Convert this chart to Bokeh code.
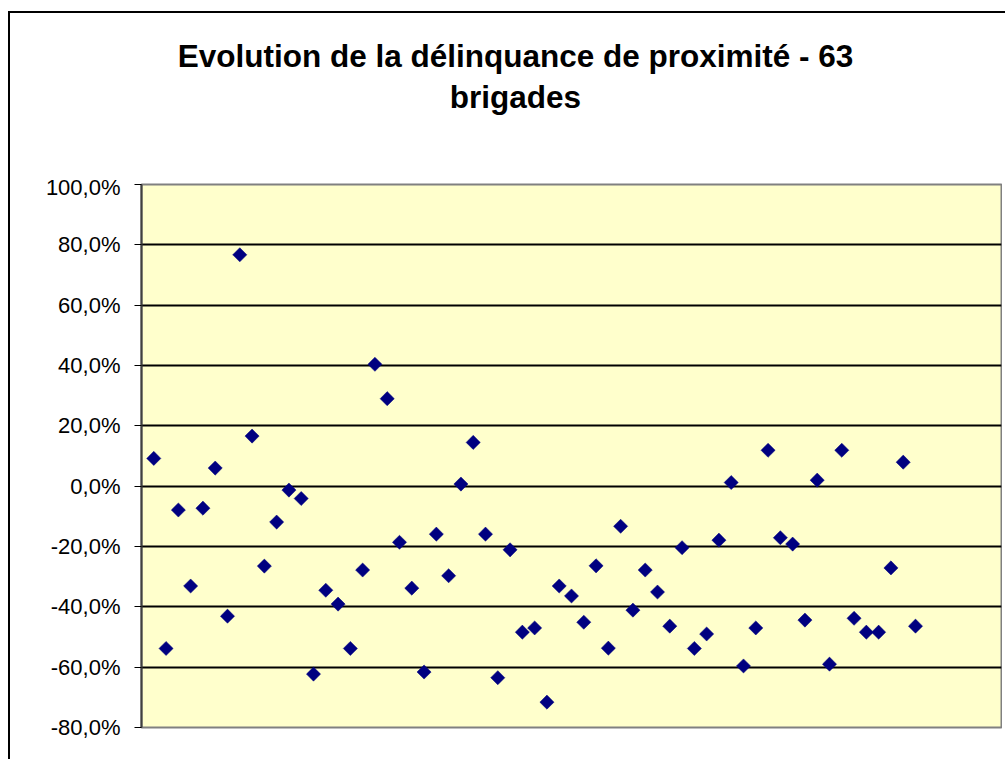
import numpy as np
from bokeh.plotting import figure
from bokeh.layouts import column
from bokeh.models import FixedTicker, Range1d, Div
from bokeh.embed import file_html
from bokeh.resources import INLINE

# ---- data -------------------------------------------------------------
title_line1 = "Evolution de la délinquance de proximité - 63"
title_line2 = "brigades"

brigades = list(range(1, 64))
evolution_pct = [
    9.2, -53.8, -7.9, -33.1, -7.3, 6.0, -43.1, 76.7, 16.6, -26.5,
    -11.9, -1.3, -4.1, -62.3, -34.5, -39.1, -53.8, -27.8, 40.4, 29.0,
    -18.6, -33.8, -61.6, -15.9, -29.7, 0.7, 14.5, -15.9, -63.5, -21.1,
    -48.4, -47.0, -71.6, -33.1, -36.4, -45.1, -26.4, -53.7, -13.3, -41.1,
    -27.8, -35.1, -46.4, -20.4, -53.8, -49.0, -17.9, 1.2, -59.6, -47.0,
    11.9, -17.1, -19.2, -44.4, 2.0, -59.0, 11.9, -43.8, -48.4, -48.4,
    -27.1, 7.95, -46.4,
]
y_ticks = [-80, -60, -40, -20, 0, 20, 40, 60, 80, 100]
y_tick_labels = ["-80,0%", "-60,0%", "-40,0%", "-20,0%", "0,0%",
                 "20,0%", "40,0%", "60,0%", "80,0%", "100,0%"]

# ---- title ------------------------------------------------------------
title_div = Div(
    text=(
        '<div style="display:block;box-sizing:border-box;width:992px;'
        'font-family:\'Liberation Sans\',Arial,sans-serif;'
        'font-weight:bold;font-size:31.5px;line-height:41px;color:#000;'
        'text-align:center;padding-top:18px;padding-left:9px;">'
        f'{title_line1}<br>{title_line2}</div>'
    ),
    width=992, height=151,
)

# ---- figure -----------------------------------------------------------
p = figure(width=992, height=585, output_backend="svg", toolbar_location=None,
           x_range=Range1d(0, 70), y_range=Range1d(-80, 100),
           min_border_left=131, min_border_top=10, min_border_right=1,
           min_border_bottom=32,
           background_fill_color="#FFFFCC", border_fill_color="white")

p.outline_line_color = "#808080"
p.outline_line_width = 2

p.xaxis.visible = False
p.xgrid.visible = False

p.yaxis.ticker = FixedTicker(ticks=y_ticks)
p.yaxis.major_label_overrides = {t: l for t, l in zip(y_ticks, y_tick_labels)}
p.yaxis.minor_tick_line_color = None
p.yaxis.major_tick_out = 7
p.yaxis.major_tick_in = 0
p.yaxis.major_tick_line_color = "#000000"
p.yaxis.axis_line_color = "#404040"
p.yaxis.axis_line_width = 2
p.yaxis.major_label_standoff = 14
p.yaxis.major_label_text_font = "Liberation Sans"
p.yaxis.major_label_text_font_size = "22px"
p.yaxis.major_label_text_color = "#000000"

p.ygrid.ticker = FixedTicker(ticks=y_ticks[1:-1])
p.ygrid.grid_line_color = "#000000"
p.ygrid.grid_line_width = 2

p.scatter(x=brigades, y=evolution_pct, marker="square", size=10,
          angle=np.pi / 4, fill_color="#000080", line_color="#000080",
          line_width=0.5)

layout = column(title_div, p, spacing=0)
layout.styles = {"border-left": "2px solid #000000",
                 "border-top": "2px solid #000000",
                 "margin-left": "8px", "margin-top": "11px"}

open("out.html", "w").write(file_html(layout, INLINE))
